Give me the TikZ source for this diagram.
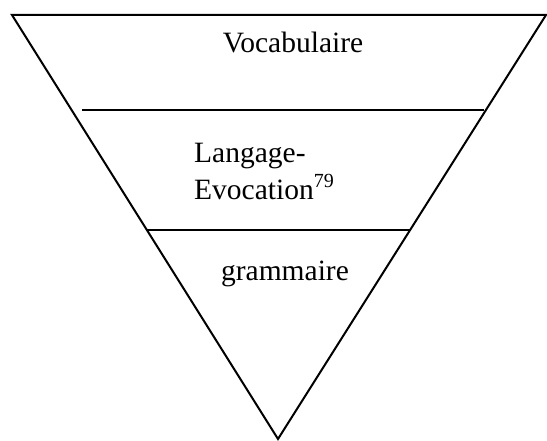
\documentclass[tikz,border=0pt]{standalone}
\usepackage{fontspec}
\setmainfont{Liberation Serif}

\begin{document}
\begin{tikzpicture}[x=1pt,y=-1pt]
    \useasboundingbox (0,0) rectangle (547,441);
    \tikzset{layertext/.style={inner sep=0pt,font=\fontsize{29.5}{37}\selectfont}}

    % the inverted triangle
    \draw[line width=2pt,line join=miter] (12,15) -- (546,15) -- (278,439) -- cycle;

    % layer separators
    \draw[line width=1.6pt] (82,110) -- (484,110);
    \draw[line width=1.6pt] (147,230) -- (411,230);

    % layer names
    \node[layertext,anchor=base] (vocab) at (293,53) {Vocabulaire};
    \node[layertext,anchor=base west,align=left] (lang) at (194,200)
        {Langage-\\Evocation\raisebox{0.42em}{\fontsize{20}{20}\selectfont 79}};
    \node[layertext,anchor=base] (gram) at (285,280) {grammaire};
\end{tikzpicture}
\end{document}
